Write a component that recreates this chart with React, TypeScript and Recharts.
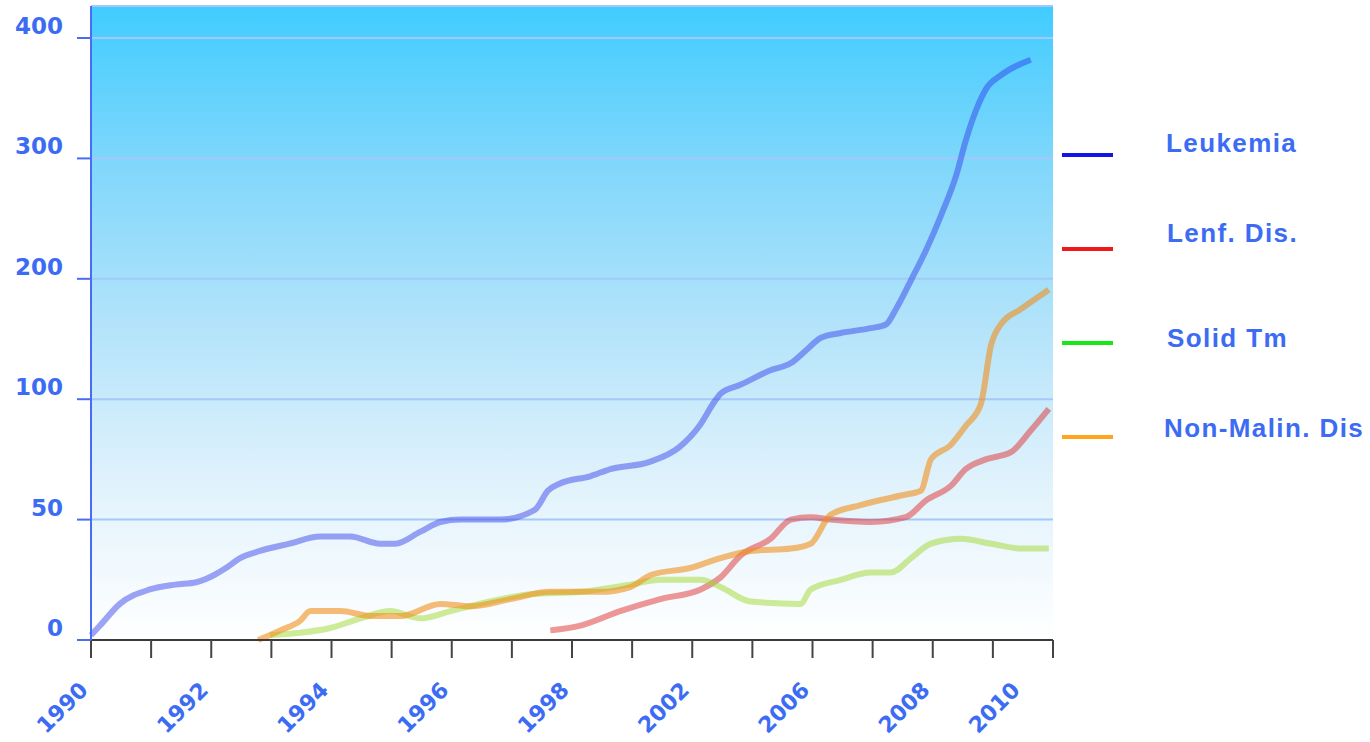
import React from 'react';
import { LineChart, Line, XAxis, YAxis, CartesianGrid } from 'recharts';

// y axis is broken: 0-50-100-200-300-400 are equally spaced
const Y_BREAKS = [0, 50, 100, 200, 300, 400];
const Y_TICK_LABELS = ['0', '50', '100', '200', '300', '400'];

// x axis: 17 evenly spaced ticks, labels only on some of them
const X_TICKS = [0, 1, 2, 3, 4, 5, 6, 7, 8, 9, 10, 11, 12, 13, 14, 15, 16];
const X_LABEL_POS = [0, 2, 4, 6, 8, 10, 12, 14, 15.5];
const X_LABELS = ['1990', '1992', '1994', '1996', '1998', '2002', '2006', '2008', '2010'];

const LEUK_X = [0, 0.15, 0.48, 0.98, 1.4, 1.75, 2.05, 2.25, 2.48, 2.81, 3.3, 3.81, 4.31, 4.81, 5.06, 5.48, 5.81, 6.15, 6.81, 7.38, 7.6, 7.8, 8.3, 8.64, 9.29, 9.78, 10.12, 10.37, 10.48, 10.8, 11.3, 11.64, 11.88, 12.14, 12.47, 12.97, 13.22, 13.39, 13.64, 13.89, 14.14, 14.39, 14.55, 14.72, 14.89, 15.13, 15.63];
const LEUK_Y = [2, 6, 15, 21, 23, 24, 27, 30, 34, 37, 40, 43, 43, 40, 40, 45, 49, 50, 50, 54, 62, 65, 68, 71, 74, 80, 89, 99, 105, 112, 124, 130, 140, 151, 155, 159, 162, 175, 199, 224, 253, 286, 315, 340, 358, 369, 382];

const LENF_X = [7.64, 8.14, 8.8, 9.47, 10.14, 10.47, 10.8, 11.3, 11.64, 11.97, 12.3, 12.97, 13.55, 13.89, 14.3, 14.55, 14.88, 15.3, 15.63, 15.93];
const LENF_Y = [4, 6, 12, 17, 21, 26, 35, 42, 50, 51, 50, 49, 51, 58, 64, 71, 75, 78, 87, 96];

const SOLID_X = [2.98, 3.48, 3.98, 4.48, 4.98, 5.48, 5.98, 6.64, 7.31, 8.14, 8.97, 9.47, 10.14, 10.47, 10.97, 11.8, 11.97, 12.47, 12.97, 13.3, 13.64, 13.97, 14.47, 14.97, 15.47, 15.93];
const SOLID_Y = [2, 3, 5, 9, 12, 9, 12, 16, 19, 20, 23, 25, 25, 22, 16, 15, 21, 25, 28, 28, 34, 40, 42, 40, 38, 38];

const NONMAL_X = [2.78, 3.15, 3.48, 3.65, 4.15, 4.65, 5.15, 5.81, 6.31, 6.98, 7.64, 8.47, 8.97, 9.31, 9.98, 10.47, 10.97, 11.64, 11.97, 12.3, 12.8, 13.47, 13.8, 13.97, 14.3, 14.55, 14.8, 14.97, 15.13, 15.47, 15.93];
const NONMAL_Y = [0, 4, 8, 12, 12, 10, 10, 15, 14, 17, 20, 20, 22, 27, 30, 34, 37, 38, 40, 52, 56, 60, 62, 75, 81, 89, 98, 145, 162, 175, 191];

const TEXT = '#3c6cf4';
const NUM_FONT = '"DejaVu Sans", Verdana, sans-serif';
const LEGEND_FONT = '"Liberation Sans", Arial, sans-serif';

const zip = (xs: number[], ys: number[]) => xs.map((x, i) => ({ x, v: ys[i] }));

const SERIES = [
  { name: 'Leukemia', data: zip(LEUK_X, LEUK_Y), stroke: '#2a36e8', opacity: 0.45, legend: '#1414e6' },
  { name: 'Lenf. Dis.', data: zip(LENF_X, LENF_Y), stroke: '#e03030', opacity: 0.5, legend: '#f01818' },
  { name: 'Solid Tm', data: zip(SOLID_X, SOLID_Y), stroke: '#a0d830', opacity: 0.5, legend: '#18e818' },
  { name: 'Non-Malin. Dis', data: zip(NONMAL_X, NONMAL_Y), stroke: '#f0901c', opacity: 0.6, legend: '#ffa41c' },
];

// map a value onto the broken axis (one unit per segment)
function toAxis(v: number) {
  for (let i = 1; i < Y_BREAKS.length; i++) {
    if (v <= Y_BREAKS[i]) {
      return i - 1 + (v - Y_BREAKS[i - 1]) / (Y_BREAKS[i] - Y_BREAKS[i - 1]);
    }
  }
  return Y_BREAKS.length - 1;
}

const Y_MAX = 5.266;

function YTick({ x, y, payload }: any) {
  return (
    <text x={x} y={y - 12} textAnchor="end" dominantBaseline="central" fill={TEXT}
      fontFamily={NUM_FONT} fontWeight="bold" fontSize={23}>
      {Y_TICK_LABELS[payload.value]}
    </text>
  );
}

function XLabel({ x, y, payload }: any) {
  const i = X_LABEL_POS.indexOf(payload.value);
  const ax = x - 7;
  const ay = y + 28;
  return (
    <text x={ax} y={ay} textAnchor="end" dominantBaseline="central" fill={TEXT}
      fontFamily={NUM_FONT} fontWeight="bold" fontSize={22}
      transform={`rotate(-45, ${ax}, ${ay})`}>
      {X_LABELS[i]}
    </text>
  );
}

const LEGEND_LINE_Y = [155, 249, 343, 437];
const LEGEND_TEXT_TOP = [133, 223, 328, 418];
const LEGEND_TEXT_LEFT = [1166, 1167, 1167, 1164];

export default function App() {
  return (
    <div style={{ position: 'absolute', left: 0, top: 0, width: 1370, height: 742, background: '#fff' }}>
      <LineChart width={1370} height={742} margin={{ top: 6, right: 317, bottom: 0, left: 0 }}>
        <defs>
          <linearGradient id="plotBg" x1="0" y1="0" x2="0" y2="1">
            <stop offset="0%" stopColor="#40ccff" />
            <stop offset="25%" stopColor="#80d7fb" />
            <stop offset="50%" stopColor="#b2e3fa" />
            <stop offset="75%" stopColor="#e0f2fc" />
            <stop offset="100%" stopColor="#ffffff" />
          </linearGradient>
        </defs>
        <CartesianGrid xAxisId={0} yAxisId="left" vertical={false} fill="url(#plotBg)"
          fillOpacity={1} stroke="#a4c8fa" strokeWidth={2} />
        <XAxis xAxisId={0} dataKey="x" type="number" domain={[0, 16]} ticks={X_TICKS}
          interval={0} height={18} tickSize={18} tick={() => <g />}
          axisLine={{ stroke: '#3a3a3a', strokeWidth: 2 }} tickLine={{ stroke: '#444', strokeWidth: 2 }} />
        <XAxis xAxisId={1} dataKey="x" type="number" domain={[0, 16]} ticks={X_LABEL_POS}
          allowDataOverflow interval={0} height={84} tickSize={0} tickMargin={0} axisLine={false} tickLine={false}
          tick={<XLabel />} />
        <YAxis yAxisId="left" type="number" domain={[0, Y_MAX]} ticks={[0, 1, 2, 3, 4, 5]}
          interval={0} width={91} tickSize={14} tickMargin={14} tick={<YTick />}
          axisLine={{ stroke: '#4a6cf5', strokeWidth: 2 }} tickLine={{ stroke: '#4a6cf5', strokeWidth: 2 }} />
        <YAxis yAxisId="right" orientation="right" type="number" domain={[0, Y_MAX]} width={0}
          tick={false} tickLine={false} axisLine={{ stroke: '#8a8a8a', strokeWidth: 2 }} />
        {SERIES.map((s) => (
          <Line key={s.name} xAxisId={0} yAxisId="left" data={s.data} dataKey={(d: any) => toAxis(d.v)}
            name={s.name} type="monotone" stroke={s.stroke} strokeOpacity={s.opacity} strokeWidth={6}
            dot={false} isAnimationActive={false} />
        ))}
        {/* dummy series so the label axis gets its ticks */}
        <Line xAxisId={1} yAxisId="left" data={SERIES[0].data} dataKey={(d: any) => toAxis(d.v)}
          stroke="none" dot={false} activeDot={false} legendType="none" isAnimationActive={false} />
      </LineChart>
      {SERIES.map((s, i) => (
        <React.Fragment key={s.name}>
          <div style={{ position: 'absolute', left: 1062, top: LEGEND_LINE_Y[i] - 2, width: 51, height: 4, background: s.legend }} />
          <span style={{
            position: 'absolute', left: LEGEND_TEXT_LEFT[i], top: LEGEND_TEXT_TOP[i] - 3.5, lineHeight: 1,
            fontFamily: LEGEND_FONT, fontWeight: 'bold', fontSize: 26, letterSpacing: 1.4, color: TEXT, whiteSpace: 'nowrap',
          }}>{s.name}</span>
        </React.Fragment>
      ))}
    </div>
  );
}
